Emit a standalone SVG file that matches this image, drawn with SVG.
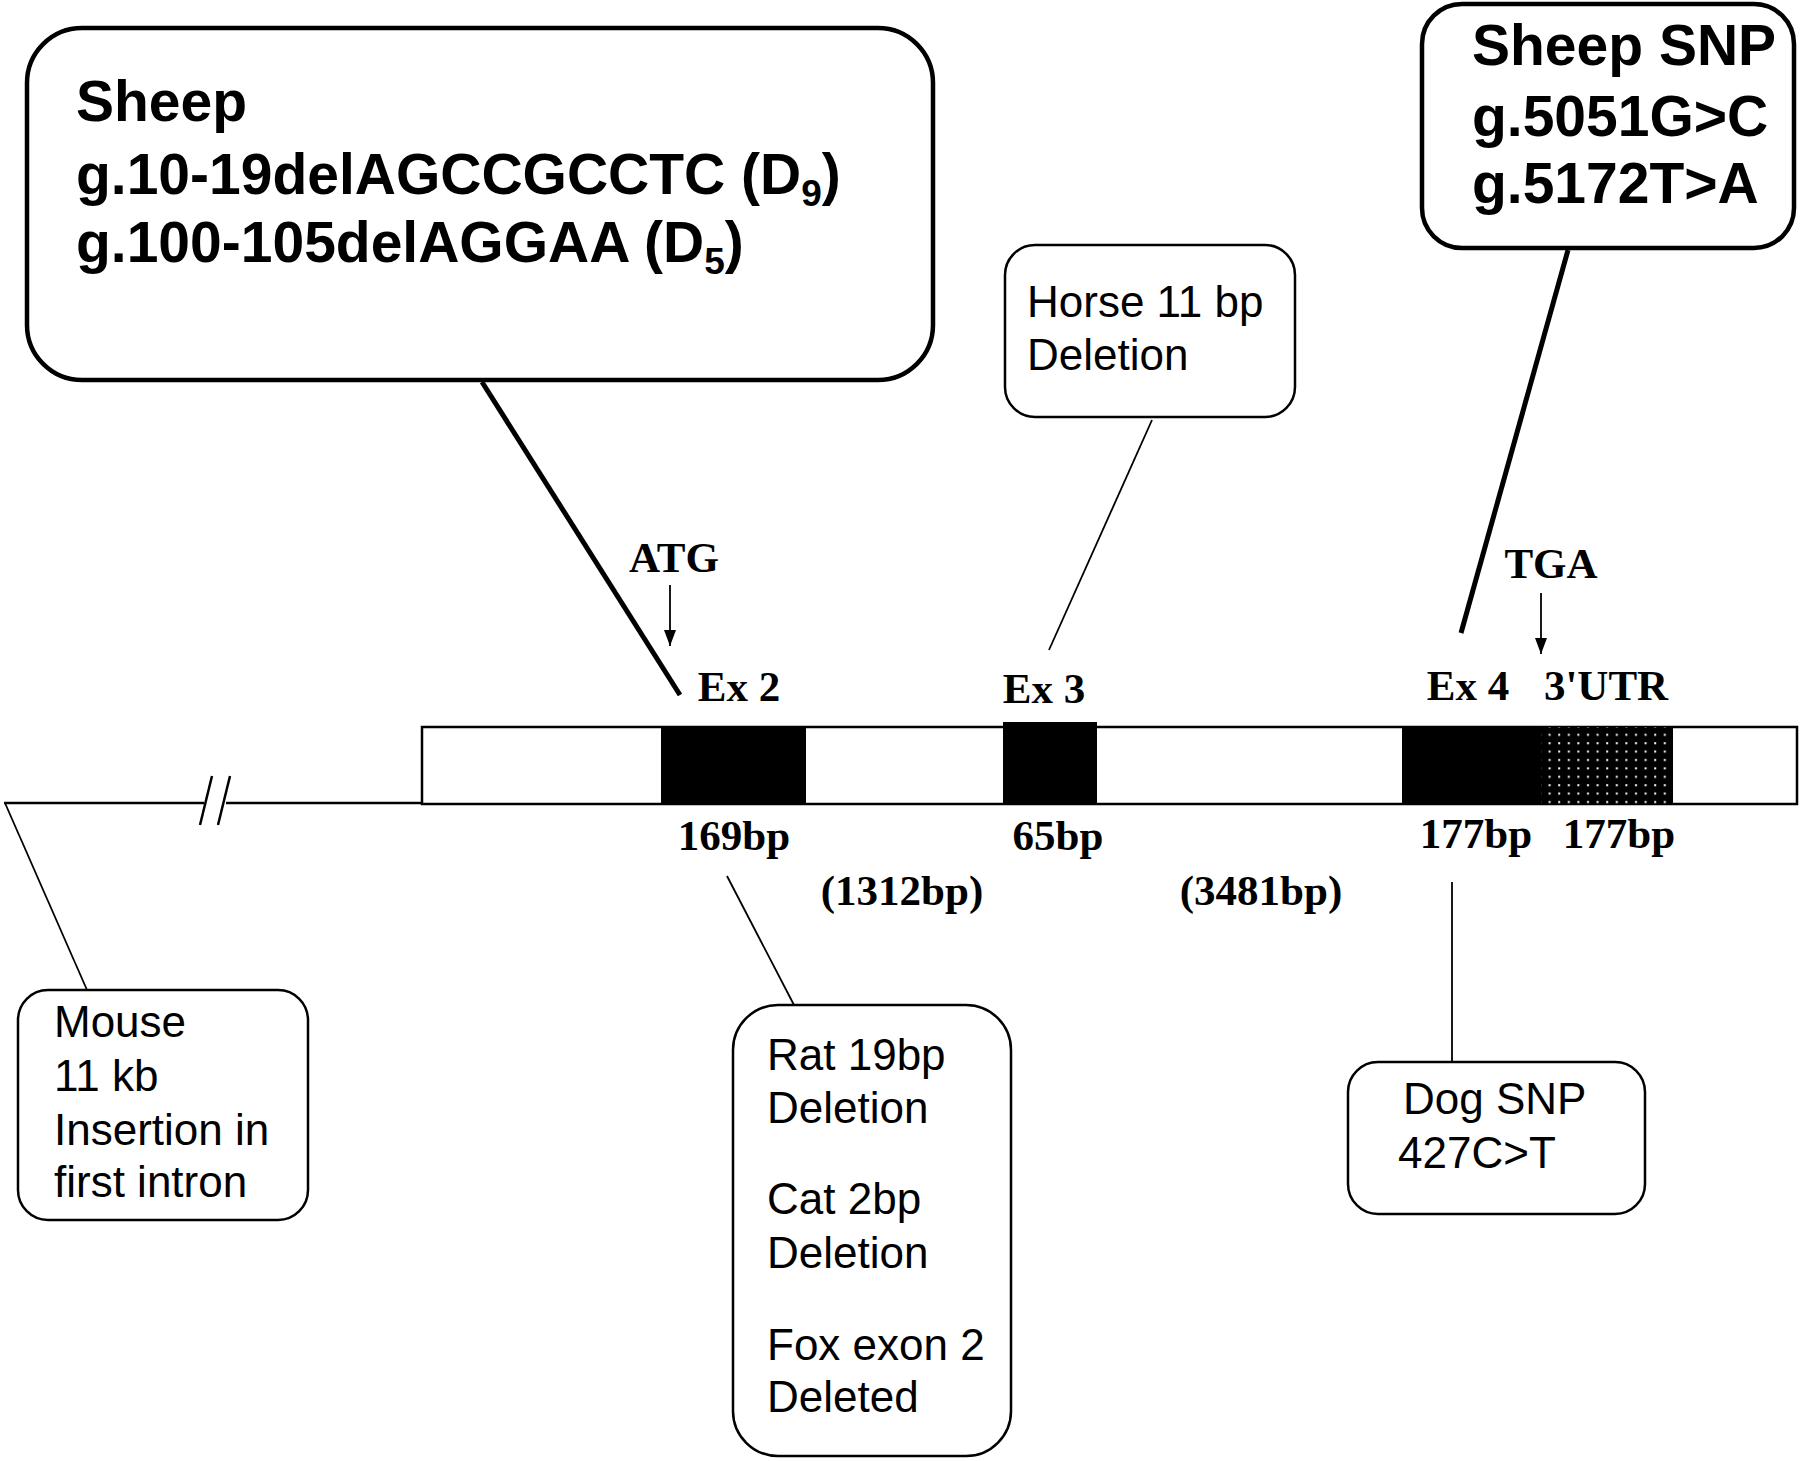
<svg xmlns="http://www.w3.org/2000/svg" width="1800" height="1461" viewBox="0 0 1800 1461">
<style>
.box{fill:#fff;stroke:#000;stroke-width:2.5}
.bigbox{fill:#fff;stroke:#000;stroke-width:4.5}
.sans{font-family:"Liberation Sans",Arial,sans-serif;fill:#000}
.big{font-size:57px;font-weight:bold}
.mid{font-size:44px}
.ser{font-family:"Liberation Serif","Times New Roman",serif;font-weight:bold;font-size:43px;fill:#000;text-anchor:middle}
.thin{stroke:#000;stroke-width:1.8;fill:none}
.thick{stroke:#000;stroke-width:5;fill:none}
.bar{stroke:#000;stroke-width:2.5;fill:none}
</style>
<defs>
<marker id="ah" markerWidth="16" markerHeight="12" refX="16" refY="6" orient="auto" markerUnits="userSpaceOnUse" viewBox="0 0 16 12">
<path d="M0,0 L16,6 L0,12 Z" fill="#000"/>
</marker>
<pattern id="dots" width="9.6" height="8.4" patternUnits="userSpaceOnUse">
<rect width="9.6" height="8.4" fill="#000"/>
<rect x="3" y="3" width="2" height="2" fill="#fff"/>
</pattern>
</defs>
<rect width="1800" height="1461" fill="#fff"/>

<g id="gene">
<rect x="422" y="727" width="1375" height="77" class="bar" fill="#fff"/>
<line x1="4" y1="803" x2="204" y2="803" class="bar"/>
<line x1="226" y1="803" x2="422" y2="803" class="bar"/>
<line x1="212" y1="776" x2="200" y2="825" class="bar" stroke-width="2"/>
<line x1="230" y1="776" x2="218" y2="825" class="bar" stroke-width="2"/>
<rect x="661" y="727" width="145" height="77" fill="#000"/>
<rect x="1003" y="722" width="94" height="82" fill="#000"/>
<rect x="1402" y="727" width="139" height="77" fill="#000"/>
<rect x="1541" y="727" width="132" height="77" fill="url(#dots)"/>
</g>

<g id="labels">
<text class="ser" x="674" y="572">ATG</text>
<text class="ser" x="1551" y="578">TGA</text>
<text class="ser" x="739" y="701">Ex 2</text>
<text class="ser" x="1044" y="703">Ex 3</text>
<text class="ser" x="1468" y="700">Ex 4</text>
<text class="ser" x="1606" y="700">3'UTR</text>
<text class="ser" x="734" y="850">169bp</text>
<text class="ser" x="1058" y="850">65bp</text>
<text class="ser" x="1476" y="848">177bp</text>
<text class="ser" x="1619" y="848">177bp</text>
<text class="ser" x="902" y="905">(1312bp)</text>
<text class="ser" x="1261" y="905">(3481bp)</text>
</g>

<g id="connectors">
<line x1="670" y1="585" x2="670" y2="646" class="thin" marker-end="url(#ah)"/>
<line x1="1541" y1="593" x2="1541" y2="654" class="thin" marker-end="url(#ah)"/>
<line x1="482" y1="382" x2="680" y2="695" class="thick"/>
<line x1="1568" y1="250" x2="1461" y2="633" class="thick"/>
<line x1="1152" y1="420" x2="1049" y2="650" class="thin"/>
<line x1="5" y1="803" x2="87" y2="990" class="thin"/>
<line x1="727" y1="876" x2="794" y2="1005" class="thin"/>
<line x1="1452" y1="882" x2="1452" y2="1062" class="thin"/>
</g>

<g id="sheep">
<rect x="27" y="28" width="906" height="352" rx="55" class="bigbox"/>
<text class="sans big" x="76" y="121">Sheep</text>
<text class="sans big" x="76" y="194">g.10-19delAGCCGCCTC (D<tspan font-size="37" dy="12">9</tspan><tspan dy="-12">)</tspan></text>
<text class="sans big" x="76" y="262">g.100-105delAGGAA (D<tspan font-size="37" dy="12">5</tspan><tspan dy="-12">)</tspan></text>
</g>

<g id="sheepsnp">
<rect x="1422" y="4" width="372" height="244" rx="40" class="bigbox"/>
<text class="sans big" x="1472" y="65">Sheep SNP</text>
<text class="sans big" x="1472" y="136">g.5051G&gt;C</text>
<text class="sans big" x="1472" y="203">g.5172T&gt;A</text>
</g>

<g id="horse">
<rect x="1005" y="245" width="290" height="172" rx="30" class="box"/>
<text class="sans mid" x="1027" y="317">Horse 11 bp</text>
<text class="sans mid" x="1027" y="370">Deletion</text>
</g>

<g id="mouse">
<rect x="18" y="990" width="290" height="230" rx="30" class="box"/>
<text class="sans mid" x="54" y="1037">Mouse</text>
<text class="sans mid" x="54" y="1091">11 kb</text>
<text class="sans mid" x="54" y="1145">Insertion in</text>
<text class="sans mid" x="54" y="1197">first intron</text>
</g>

<g id="rat">
<rect x="733" y="1005" width="278" height="451" rx="45" class="box"/>
<text class="sans mid" x="767" y="1070">Rat 19bp</text>
<text class="sans mid" x="767" y="1123">Deletion</text>
<text class="sans mid" x="767" y="1214">Cat 2bp</text>
<text class="sans mid" x="767" y="1268">Deletion</text>
<text class="sans mid" x="767" y="1360">Fox exon 2</text>
<text class="sans mid" x="767" y="1412">Deleted</text>
</g>

<g id="dog">
<rect x="1348" y="1062" width="297" height="152" rx="30" class="box"/>
<text class="sans mid" x="1403" y="1114">Dog SNP</text>
<text class="sans mid" x="1398" y="1168">427C&gt;T</text>
</g>
</svg>
